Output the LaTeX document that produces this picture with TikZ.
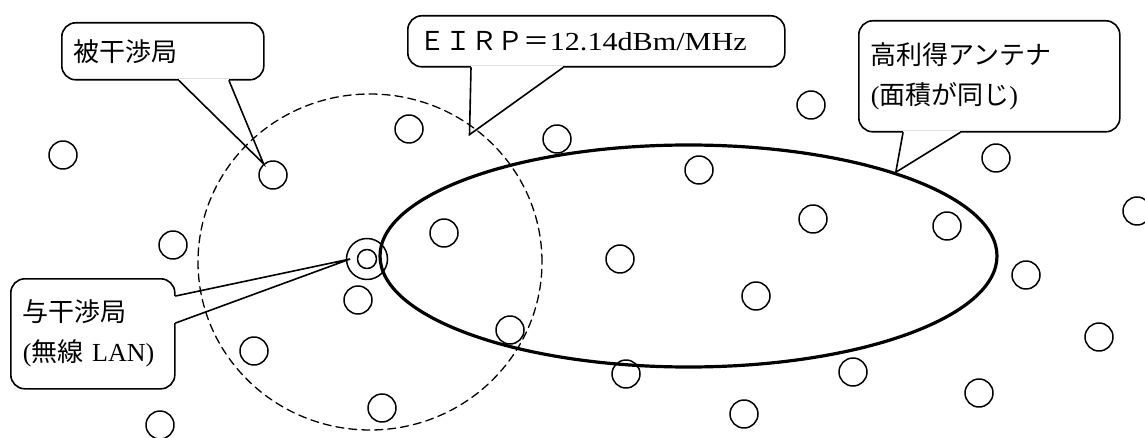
\documentclass[tikz,border=0pt]{standalone}
\usepackage{fontspec}
\setmainfont{Liberation Serif}
\newfontfamily\jp{Noto Sans CJK JP}
\newfontfamily\wide[FakeStretch=1.16]{Liberation Serif}
\usetikzlibrary{shapes.geometric,calc}
\begin{document}
\begin{tikzpicture}[x=1pt,y=-1pt,line join=round,line cap=round,font=\fontsize{26}{40}\selectfont,
	stn/.style={circle,draw,line width=1.5pt,minimum size=28pt,inner sep=0pt},
	callbox/.style={draw,line width=1.6pt,rounded corners=14pt,anchor=north west,inner xsep=12pt,inner ysep=0pt,align=left},
	spike/.style={line width=1.6pt,line join=miter},
	gap/.style={white,line width=2.8pt,line cap=butt}]
	\useasboundingbox (0,0) rectangle (1145,438);
	\node[ellipse,draw,line width=1.3pt,dash pattern=on 8pt off 5pt,minimum width=344pt,minimum height=336pt,inner sep=0pt] (zone) at (370,262) {};
	\node[ellipse,draw,line width=3.2pt,minimum width=617pt,minimum height=222pt,inner sep=0pt] (ant) at (688.5,256) {};
	\foreach \x/\y [count=\i] in {63/155,273/175,409/129,557/139,811/105,699/170,996/158,1137/211,173/245,444/233,
		620/259,813/219,947/226,358/300,510/330,756/296,1026/275,254/351,626/374,853/372,979/393,1099/337,382/408,744/414,160/425}
		\node[stn] (c\i) at (\x,\y) {};
	\node[stn,minimum size=19pt] (tx) at (367,259) {};
	\node[stn,minimum size=41pt] (txring) at (tx) {};
	\node[callbox,minimum width=202pt,minimum height=57pt,text width=178pt] (vic) at (61,22) {\jp 被干渉局};
	\node[callbox,minimum width=377pt,minimum height=51pt,text width=353pt] (eirp) at (407,15) {{\jp ＥＩＲＰ＝}{\wide 12.14dBm/MHz}};
	\node[callbox,minimum width=261pt,minimum height=111pt,text width=237pt] (gain) at (858,20) {{\jp 高利得アンテナ}\\({\jp 面積が同じ})};
	\node[callbox,minimum width=164pt,minimum height=110pt,text width=140pt] (src) at (10,278) {{\jp 与干渉局}\\({\jp 無線} LAN)};
	\coordinate (vicL) at ($(vic.south west)+(118,0)$);
	\coordinate (vicR) at ($(vic.south west)+(168,0)$);
	\coordinate (eirpL) at ($(eirp.south west)+(64,0)$);
	\coordinate (eirpR) at ($(eirp.south west)+(156,0)$);
	\coordinate (gainL) at ($(gain.south west)+(45,0)$);
	\coordinate (gainR) at ($(gain.south west)+(102,0)$);
	\coordinate (srcA) at ($(src.north east)+(0,18)$);
	\coordinate (srcB) at ($(src.north east)+(0,45)$);
	\draw[gap] (vicL)--(vicR) (eirpL)--(eirpR) (gainL)--(gainR) (srcA)--(srcB);
	\draw[spike] (vicL)--(c2.130)--(vicR);
	\draw[spike] (eirpL)--($(zone.center)!0.95!(zone.52)$)--(eirpR);
	\draw[spike] (gainL)--(ant.22)--(gainR);
	\draw[spike] (srcA)--($(txring.west)!0.4!(tx.west)$)--(srcB);
\end{tikzpicture}
\end{document}
